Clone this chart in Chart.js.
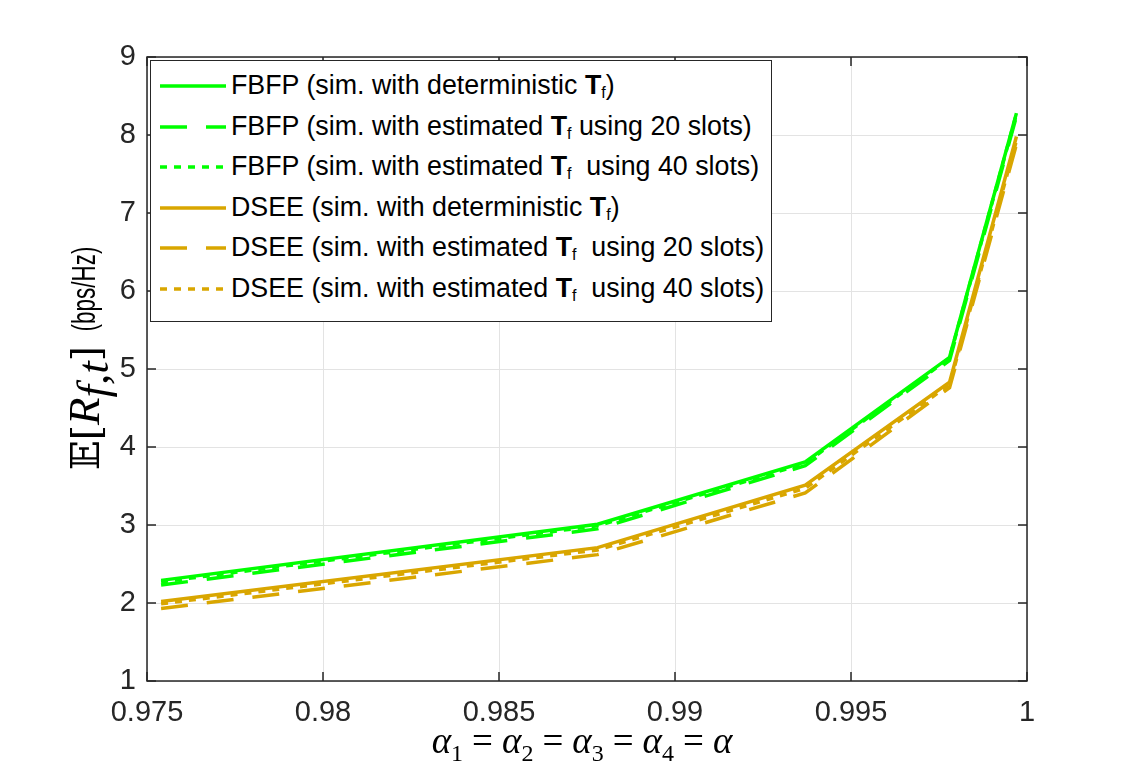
<!DOCTYPE html>
<html>
<head>
<meta charset="utf-8">
<script src="https://cdn.jsdelivr.net/npm/chart.js@4/dist/chart.umd.min.js"></script>
<style>
  body { margin: 0; background: #fff; }
  #wrap { position: relative; width: 1136px; height: 773px; }
  #chart { position: absolute; left: 0; top: 0; }
  #legend {
    position: absolute; left: 150px; top: 60px; width: 622px; height: 262px;
    border: 1px solid #262626; background: #fff; box-sizing: border-box;
    font-family: "Liberation Sans", Arial, sans-serif; font-size: 26.8px; color: #000;
  }
  .row { position: absolute; left: 0; height: 40px; white-space: nowrap; }
  .row svg { position: absolute; left: 9px; top: 0; }
  .row span.txt { position: absolute; left: 80px; top: 4px; line-height: 30px; }
  .row b { font-weight: bold; }
  .row sub { font-size: 16px; vertical-align: -4px; font-weight: normal; }
  #xtitle {
    position: absolute; left: 382px; width: 400px; top: 719px; text-align: center;
    font-family: "Liberation Serif", "DejaVu Serif", serif; font-style: italic; font-size: 37px; color: #000;
  }
  #xtitle sub { font-style: normal; font-size: 24px; vertical-align: -8px; }
  #xtitle .eq { font-style: normal; padding: 0 9px; }
  #ymath {
    position: absolute; left: 84px; top: 408px; width: 200px; height: 50px; margin-left: -100px; margin-top: -25px;
    transform: rotate(-90deg); text-align: center; white-space: nowrap; line-height: 50px; color: #000;
    font-family: "DejaVu Serif", "Liberation Serif", serif; font-size: 39px;
  }
  #ymath i { font-family: "Liberation Serif", serif; font-size: 45px; }
  #ymath sub { font-size: 29px; vertical-align: -9px; }
  #yunit {
    position: absolute; left: 84px; top: 289px; width: 160px; height: 40px; margin-left: -80px; margin-top: -20px;
    transform: rotate(-90deg) scaleX(0.68); text-align: center; white-space: nowrap; line-height: 40px; color: #000;
    font-family: "Liberation Sans", Arial, sans-serif; font-size: 33px;
  }
</style>
</head>
<body>
<div id="wrap">
  <canvas id="chart" width="1136" height="773"></canvas>
  <div id="legend"></div>
  <div id="xtitle">α<sub>1</sub><span class="eq">=</span>α<sub>2</sub><span class="eq">=</span>α<sub>3</sub><span class="eq">=</span>α<sub>4</sub><span class="eq">=</span>α</div>
  <div id="ymath">𝔼[<i>R</i><sub><i>f,t</i></sub>]</div>
  <div id="yunit">(bps/Hz)</div>
</div>
<script>
// alpha values where the curves were sampled
var alphas = [0.9754, 0.9878, 0.9937, 0.9978, 0.9997]

var fbfpDet = [2.29, 3.01, 3.81, 5.15, 8.28]
var fbfp20 = [2.23, 2.95, 3.76, 5.11, 8.24]
var fbfp40 = [2.27, 2.99, 3.79, 5.14, 8.27]
var dseeDet = [2.02, 2.71, 3.51, 4.83, 7.98]
var dsee20 = [1.93, 2.62, 3.41, 4.76, 7.88]
var dsee40 = [1.99, 2.68, 3.47, 4.80, 7.93]

var xTicks = [0.975, 0.98, 0.985, 0.99, 0.995, 1]
var yTicks = [1, 2, 3, 4, 5, 6, 7, 8, 9]

var green = '#00ff00'
var gold = '#d9a600'
var dashed = [27, 19]
var dotted = [7, 7]

var legendNames = [
    'FBFP (sim. with deterministic <b>T</b><sub>f</sub>)',
    'FBFP (sim. with estimated <b>T</b><sub>f</sub> using 20 slots)',
    'FBFP (sim. with estimated <b>T</b><sub>f</sub>&nbsp; using 40 slots)',
    'DSEE (sim. with deterministic <b>T</b><sub>f</sub>)',
    'DSEE (sim. with estimated <b>T</b><sub>f</sub>&nbsp; using 20 slots)',
    'DSEE (sim. with estimated <b>T</b><sub>f</sub>&nbsp; using 40 slots)'
]

var series = [
    {vals: fbfpDet, color: green, dash: []},
    {vals: fbfp20, color: green, dash: dashed},
    {vals: fbfp40, color: green, dash: dotted},
    {vals: dseeDet, color: gold, dash: []},
    {vals: dsee20, color: gold, dash: dashed},
    {vals: dsee40, color: gold, dash: dotted}
]

var datasets = series.map(function (s, i) {
    return {
        label: legendNames[i].replace(/<[^>]+>/g, ''),
        data: alphas.map(function (a, k) { return {x: a, y: s.vals[k]} }),
        borderColor: s.color,
        borderWidth: 3.5,
        borderDash: s.dash,
        pointRadius: 0,
        tension: 0,
        fill: false
    }
})

// legend box (html so the text stays text)
var legendHtml = ''
series.forEach(function (s, i) {
    var top = 5 + i * 40.6
    legendHtml += '<div class="row" style="top:' + top + 'px">' +
        '<svg width="66" height="40"><line x1="0" y1="20" x2="66" y2="20" stroke="' + s.color +
        '" stroke-width="3.5" stroke-dasharray="' + (s.dash.length ? s.dash.join(' ') : 'none') + '"/></svg>' +
        '<span class="txt">' + legendNames[i] + '</span></div>'
})
document.getElementById('legend').innerHTML = legendHtml

var axisColor = '#262626'

// matlab style box with inward ticks
var boxPlugin = {
    id: 'box',
    afterDatasetsDraw: function (chart) {
        var ctx = chart.ctx, a = chart.chartArea
        var xs = chart.scales.x, ys = chart.scales.y
        ctx.save()
        ctx.strokeStyle = axisColor
        ctx.lineWidth = 1.5
        ctx.strokeRect(a.left, a.top, a.right - a.left, a.bottom - a.top)
        ctx.beginPath()
        xTicks.forEach(function (v) {
            var px = xs.getPixelForValue(v)
            ctx.moveTo(px, a.bottom); ctx.lineTo(px, a.bottom - 9)
            ctx.moveTo(px, a.top); ctx.lineTo(px, a.top + 9)
        })
        yTicks.forEach(function (v) {
            var py = ys.getPixelForValue(v)
            ctx.moveTo(a.left, py); ctx.lineTo(a.left + 9, py)
            ctx.moveTo(a.right, py); ctx.lineTo(a.right - 9, py)
        })
        ctx.stroke()
        ctx.restore()
    }
}

var tickFont = {family: '"Liberation Sans", Arial, sans-serif', size: 29}

new Chart(document.getElementById('chart'), {
    type: 'line',
    data: {datasets: datasets},
    options: {
        responsive: false,
        animation: false,
        devicePixelRatio: 1,
        layout: {padding: {top: 57, right: 109, left: 0, bottom: 0}},
        plugins: {legend: {display: false}, tooltip: {enabled: false}},
        scales: {
            x: {
                type: 'linear',
                min: 0.975,
                max: 1,
                afterBuildTicks: function (scale) {
                    scale.ticks = xTicks.map(function (v) { return {value: v} })
                },
                afterFit: function (scale) { scale.height = 92 },
                grid: {color: '#e3e3e3', lineWidth: 1, drawTicks: false},
                border: {display: false},
                ticks: {
                    font: tickFont,
                    color: axisColor,
                    padding: 15,
                    maxRotation: 0,
                    autoSkip: false,
                    callback: function (v) { return String(parseFloat(Number(v).toFixed(3))) }
                }
            },
            y: {
                min: 1,
                max: 9,
                afterBuildTicks: function (scale) {
                    scale.ticks = yTicks.map(function (v) { return {value: v} })
                },
                afterFit: function (scale) { scale.width = 147 },
                grid: {color: '#e3e3e3', lineWidth: 1, drawTicks: false},
                border: {display: false},
                ticks: {font: tickFont, color: axisColor, padding: 11}
            }
        }
    },
    plugins: [boxPlugin]
})
</script>
</body>
</html>
